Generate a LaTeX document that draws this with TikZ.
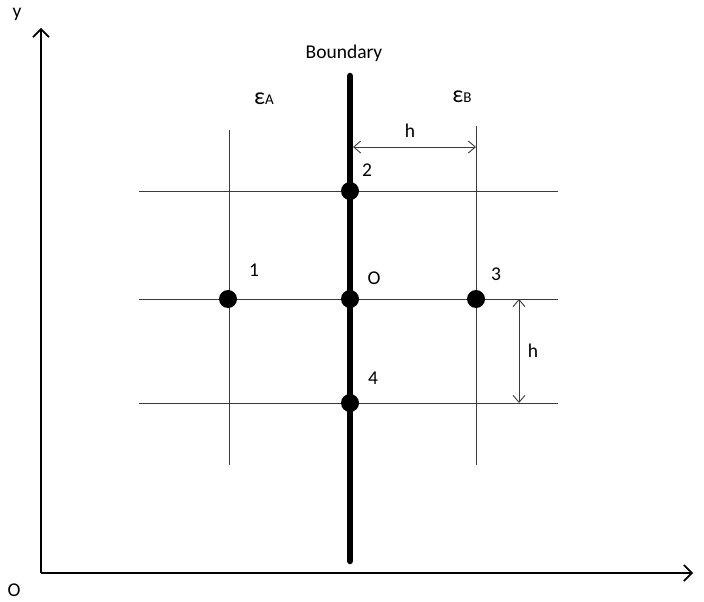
\documentclass[tikz,border=0pt]{standalone}
\usepackage{fontspec}
\setmainfont{Carlito}
\usetikzlibrary{positioning,arrows.meta}
\definecolor{GridGray}{HTML}{3A3A3A}
\tikzset{
  gridline/.style={GridGray,line width=0.9pt},
  pointdot/.style={circle,fill=black,inner sep=0pt,minimum size=18pt},
  axisline/.style={black,line width=1.7pt,-{Straight Barb[length=8pt,width=16pt,line width=1.7pt]}},
  dimline/.style={GridGray,line width=0.9pt,{Straight Barb[length=7pt,width=12pt]}-{Straight Barb[length=7pt,width=12pt]}},
  lab/.style={font=\fontsize{19.5}{23}\selectfont}
}

\begin{document}
\begin{tikzpicture}[x=1pt,y=-1pt]
  \useasboundingbox (0,0) rectangle (704,602);
  % axes
  \coordinate (origin) at (41,573);
  \coordinate (ytip) at (41,28);
  \coordinate (xtip) at (693,573);
  \draw[axisline] (origin) -- (ytip);
  \draw[axisline] (origin) -- (xtip);
  \node[lab] (ylab) at (17,14) {y};
  \node[lab] (olab) at (14,590) {O};
  \node[lab] (xlab) at (708,590) {x};
  % grid lines
  \foreach \y in {191,299,403}
    \draw[gridline] (139,\y) -- (558,\y);
  \draw[gridline] (229,130) -- (229,465);
  \draw[gridline] (476,126) -- (476,465);
  % boundary
  \coordinate (btop) at (350,76);
  \coordinate (bbot) at (350,561);
  \draw[line width=6.5pt,line cap=round] (btop) -- (bbot);
  \node[lab] (boundary) at (344,53) {Boundary};
  \node[lab] (epsA) at (264,99) {{\fontsize{24}{26}\selectfont ε}{\fontsize{15}{17}\selectfont A}};
  \node[lab] (epsB) at (462,97) {{\fontsize{24}{26}\selectfont ε}{\fontsize{15}{17}\selectfont B}};
  % points
  \node[pointdot] (p1) at (228,299) {};
  \node[pointdot] (p2) at (350,191) {};
  \node[pointdot] (p0) at (350,299) {};
  \node[pointdot] (p3) at (476,299) {};
  \node[pointdot] (p4) at (350,403) {};
  \node[lab] at (254,270) {1};
  \node[lab] at (367,170) {2};
  \node[lab] at (374,278) {O};
  \node[lab] at (496,274) {3};
  \node[lab] at (373,378) {4};
  % spacing
  \coordinate (hl) at (353,147);
  \coordinate (hr) at (476,147);
  \draw[dimline] (hl) -- (hr);
  \node[lab] (hlab1) at (410,131) {h};
  \coordinate (vt) at (519,299);
  \coordinate (vb) at (519,403);
  \draw[dimline] (vt) -- (vb);
  \node[lab] (hlab2) at (533,351) {h};
\end{tikzpicture}
\end{document}
